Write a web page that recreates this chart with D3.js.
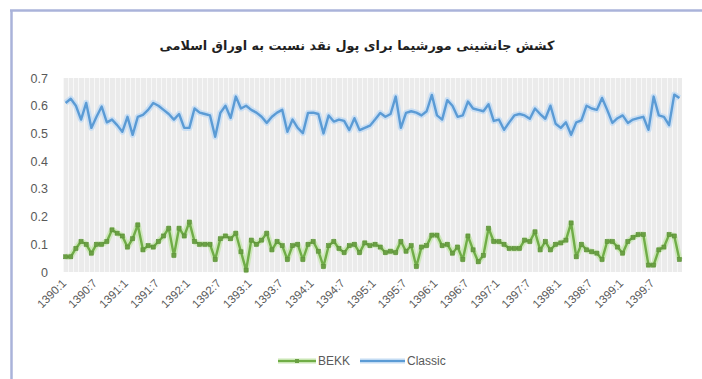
<!DOCTYPE html>
<html>
<head>
<meta charset="utf-8">
<script src="https://cdn.jsdelivr.net/npm/d3@7/dist/d3.min.js"></script>
<style>
  body { margin: 0; background: #fff; }
  svg { display: block; }
</style>
</head>
<body>
<svg id="chart" width="702" height="379"></svg>
<script>
// Monthly periods, 1390:1 .. 1399:12
const years = [1390, 1391, 1392, 1393, 1394, 1395, 1396, 1397, 1398, 1399];
const months = [1, 2, 3, 4, 5, 6, 7, 8, 9, 10, 11, 12];
const periods = years.flatMap(y => months.map(m => `${y}:${m}`));

// Labelled ticks on the category axis (every sixth month)
const tickLabels = [
  "1390:1", "1390:7", "1391:1", "1391:7", "1392:1", "1392:7", "1393:1", "1393:7",
  "1394:1", "1394:7", "1395:1", "1395:7", "1396:1", "1396:7", "1397:1", "1397:7",
  "1398:1", "1398:7", "1399:1", "1399:7"
];

const yTicks = [0, 0.1, 0.2, 0.3, 0.4, 0.5, 0.6, 0.7];

// Morishima elasticity, BEKK model
const bekk = [
  0.055, 0.055, 0.085, 0.110, 0.100, 0.068, 0.100, 0.100, 0.110, 0.152,
  0.140, 0.130, 0.090, 0.120, 0.170, 0.080, 0.095, 0.090, 0.110, 0.130,
  0.158, 0.060, 0.158, 0.130, 0.180, 0.110, 0.100, 0.100, 0.100, 0.045,
  0.120, 0.130, 0.120, 0.140, 0.073, 0.007, 0.115, 0.100, 0.115, 0.140,
  0.080, 0.110, 0.095, 0.045, 0.095, 0.100, 0.045, 0.100, 0.110, 0.075,
  0.020, 0.095, 0.110, 0.085, 0.070, 0.095, 0.100, 0.070, 0.105, 0.095,
  0.100, 0.090, 0.070, 0.075, 0.070, 0.110, 0.075, 0.095, 0.020, 0.090,
  0.095, 0.133, 0.133, 0.095, 0.100, 0.068, 0.090, 0.045, 0.130, 0.080,
  0.037, 0.060, 0.158, 0.110, 0.110, 0.100, 0.085, 0.085, 0.085, 0.115,
  0.110, 0.145, 0.080, 0.110, 0.080, 0.100, 0.105, 0.115, 0.177, 0.055,
  0.100, 0.080, 0.073, 0.068, 0.045, 0.110, 0.110, 0.090, 0.068, 0.110,
  0.125, 0.135, 0.135, 0.025, 0.025, 0.080, 0.090, 0.135, 0.130, 0.045
];

// Morishima elasticity, classic model
const classic = [
  0.610, 0.625, 0.600, 0.550, 0.610, 0.520, 0.560, 0.597, 0.540, 0.550,
  0.530, 0.506, 0.560, 0.495, 0.560, 0.567, 0.585, 0.610, 0.600, 0.585,
  0.570, 0.550, 0.570, 0.520, 0.520, 0.590, 0.575, 0.570, 0.565, 0.488,
  0.574, 0.600, 0.556, 0.633, 0.590, 0.600, 0.585, 0.575, 0.560, 0.538,
  0.560, 0.575, 0.585, 0.506, 0.550, 0.520, 0.501, 0.574, 0.575, 0.570,
  0.500, 0.565, 0.543, 0.550, 0.545, 0.512, 0.555, 0.512, 0.520, 0.528,
  0.550, 0.574, 0.560, 0.570, 0.633, 0.520, 0.574, 0.580, 0.575, 0.565,
  0.580, 0.639, 0.565, 0.550, 0.620, 0.600, 0.560, 0.565, 0.615, 0.590,
  0.585, 0.580, 0.605, 0.545, 0.550, 0.513, 0.540, 0.565, 0.570, 0.565,
  0.553, 0.590, 0.570, 0.553, 0.600, 0.535, 0.520, 0.540, 0.495, 0.540,
  0.547, 0.600, 0.590, 0.585, 0.628, 0.585, 0.538, 0.555, 0.565, 0.538,
  0.550, 0.555, 0.560, 0.513, 0.633, 0.565, 0.560, 0.530, 0.640, 0.628
];

const title = "کشش جانشینی مورشیما برای پول نقد نسبت به اوراق اسلامی";

const seriesInfo = [
  { name: "BEKK", values: bekk, color: "#70ad47", glow: "#c9e6b3", marker: true },
  { name: "Classic", values: classic, color: "#5b9bd5", glow: "#c4dcf3", marker: false }
];

const svg = d3.select("#chart");
const W = 702, H = 379;
const plot = { left: 63, right: 682, top: 78, bottom: 272 };

// frame lines (top and left edges)
svg.append("line").attr("x1", 10).attr("x2", W).attr("y1", 10.5).attr("y2", 10.5)
  .attr("stroke", "#aab3da").attr("stroke-width", 2.5);
svg.append("line").attr("x1", 11.5).attr("x2", 11.5).attr("y1", 10).attr("y2", H)
  .attr("stroke", "#aab3da").attr("stroke-width", 2.5);

const x = d3.scalePoint().domain(periods).range([plot.left, plot.right]).padding(0.5);
const y = d3.scaleLinear().domain([0, 0.7]).range([plot.bottom, plot.top]);
const step = x.step();

// plot background
svg.append("rect")
  .attr("x", plot.left).attr("y", plot.top)
  .attr("width", plot.right - plot.left).attr("height", plot.bottom - plot.top)
  .attr("fill", "#ebebeb");

// vertical gridlines between categories
svg.append("g").selectAll("line")
  .data(periods)
  .join("line")
  .attr("x1", d => Math.round(x(d) - step / 2) + 0.5)
  .attr("x2", d => Math.round(x(d) - step / 2) + 0.5)
  .attr("y1", plot.top).attr("y2", plot.bottom)
  .attr("stroke", "#f8f8f8").attr("stroke-width", 1);

// title
svg.append("text")
  .attr("x", 357).attr("y", 50)
  .attr("text-anchor", "middle")
  .attr("direction", "rtl")
  .attr("font-family", "DejaVu Sans, Noto Sans, sans-serif")
  .attr("font-weight", "bold")
  .attr("font-size", 12.8)
  .attr("fill", "#1f1f1f")
  .text(title);

// y axis labels
const yAxis = d3.axisLeft(y).tickValues(yTicks).tickSize(0).tickPadding(0)
  .tickFormat(d => d === 0 ? "0" : d3.format(".1f")(d));
const gy = svg.append("g").attr("transform", `translate(${plot.left - 15},0)`).call(yAxis);
gy.select(".domain").remove();
gy.selectAll("text")
  .attr("font-family", "Liberation Sans, Arial, sans-serif")
  .attr("font-size", 12.5)
  .attr("fill", "#595959");

// x axis labels, rotated
const xAxis = d3.axisBottom(x).tickValues(tickLabels).tickSize(0).tickPadding(0);
const gx = svg.append("g").attr("transform", `translate(0,${plot.bottom})`).call(xAxis);
gx.select(".domain").remove();
gx.selectAll("text")
  .attr("font-family", "Liberation Sans, Arial, sans-serif")
  .attr("font-size", 11.5)
  .attr("fill", "#595959")
  .attr("text-anchor", "end")
  .attr("y", 0)
  .attr("dy", "0.35em")
  .attr("transform", "translate(-2,9) rotate(-45)");

// series lines
const line = d3.line().x((d, i) => x(periods[i])).y(d => y(d));
seriesInfo.forEach(s => {
  const g = svg.append("g");
  g.append("path").datum(s.values).attr("d", line)
    .attr("fill", "none").attr("stroke", s.glow).attr("stroke-width", 6)
    .attr("stroke-linejoin", "round").attr("opacity", 0.85);
  g.append("path").datum(s.values).attr("d", line)
    .attr("fill", "none").attr("stroke", s.color).attr("stroke-width", 2.4)
    .attr("stroke-linejoin", "round");
  if (s.marker) {
    g.selectAll("rect").data(s.values).join("rect")
      .attr("x", (d, i) => x(periods[i]) - 2)
      .attr("y", d => y(d) - 2)
      .attr("width", 4).attr("height", 4)
      .attr("fill", "#6aa043").attr("stroke", "#5c8f3a").attr("stroke-width", 0.6);
  }
});

// legend
const legend = svg.append("g").attr("font-family", "Liberation Sans, Arial, sans-serif")
  .attr("font-size", 12).attr("fill", "#595959");
const leg = [
  { s: seriesInfo[0], x0: 278, x1: 316, tx: 318 },
  { s: seriesInfo[1], x0: 360, x1: 405, tx: 407 }
];
leg.forEach(l => {
  const ly = 361;
  legend.append("line").attr("x1", l.x0).attr("x2", l.x1).attr("y1", ly).attr("y2", ly)
    .attr("stroke", l.s.glow).attr("stroke-width", 5);
  legend.append("line").attr("x1", l.x0).attr("x2", l.x1).attr("y1", ly).attr("y2", ly)
    .attr("stroke", l.s.color).attr("stroke-width", 2.2);
  if (l.s.marker) {
    legend.append("rect").attr("x", (l.x0 + l.x1) / 2 - 2).attr("y", ly - 2)
      .attr("width", 4).attr("height", 4).attr("fill", "#6aa043");
  }
  legend.append("text").attr("x", l.tx).attr("y", ly).attr("dy", "0.35em")
    .attr("fill", "#595959").text(l.s.name);
});
</script>
</body>
</html>
